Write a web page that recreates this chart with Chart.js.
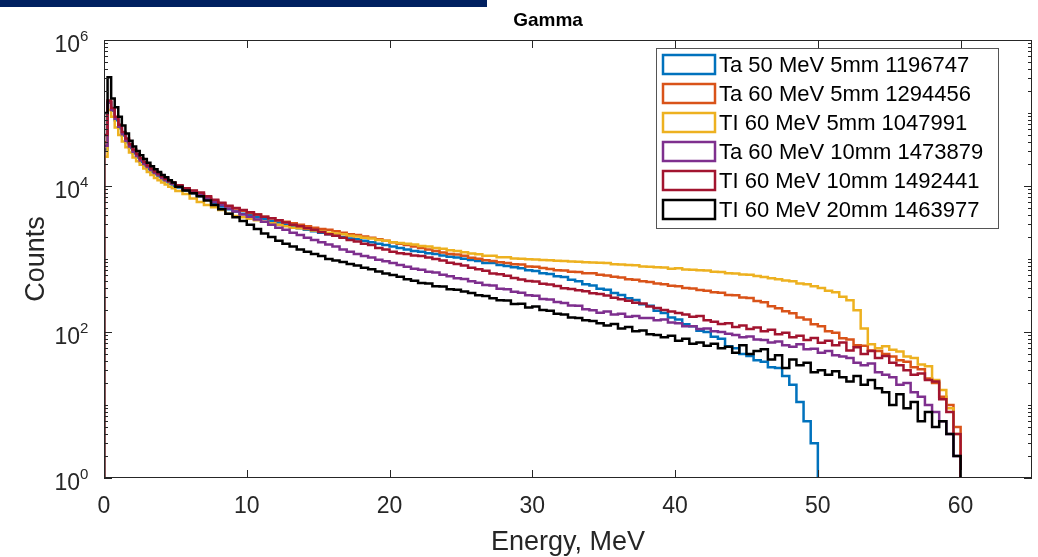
<!DOCTYPE html>
<html lang="en">
<head>
<meta charset="UTF-8">
<title>Gamma</title>
<script src="https://cdn.jsdelivr.net/npm/chart.js"></script>
<style>
    body { margin: 0; background: #ffffff; }
    #wrap { position: relative; width: 1038px; height: 557px; }
    #topBar { position: absolute; left: 0; top: 0; width: 487px; height: 7px; background: #002060; }
    canvas { position: absolute; left: 0; top: 0; }
</style>
</head>
<body>
<div id="wrap">
    <canvas id="gammaChart" width="1038" height="557"></canvas>
    <div id="topBar"></div>
</div>
<script>
    // histogram bins: first 20 bins are 0.25 MeV wide (0-5 MeV), then 0.5 MeV wide (one row = 5 MeV)
    const fineBinWidth = 0.25;
    const fineBinCount = 20;
    const binWidth = 0.5;

    const ta50_5mm = [
        31600, 138000, 107000, 79400, 61700, 49000, 39800, 33100, 28200, 24500,
        21400, 19100, 17000, 15500, 14500, 13500, 12300, 11500, 10700, 10000,
        9550, 8710, 7940, 7240, 6460, 5750, 5250, 4790, 4470, 4170,
        3980, 3720, 3550, 3310, 3160, 2950, 2820, 2630, 2510, 2400,
        2290, 2190, 2090, 2000, 1910, 1860, 1780, 1700, 1620, 1550,
        1480, 1410, 1350, 1290, 1260, 1200, 1170, 1120, 1070, 1050,
        1010, 968, 940, 884, 878, 826, 800, 770, 748, 702,
        684, 640, 622, 582, 568, 520, 496, 452, 432, 392,
        378, 342, 320, 290, 274, 240, 228, 196, 182, 158,
        148, 128, 120, 104, 100, 86, 81, 64, 60, 50,
        47, 41, 39, 33, 32, 25, 19, 11, 6, 3
    ];
    const ta60_5mm = [
        39800, 141000, 112000, 85100, 66100, 52500, 42700, 35500, 30200, 26300,
        22900, 20400, 18200, 16600, 15100, 14100, 12900, 12000, 11500, 10700,
        10000, 9120, 8510, 7760, 7080, 6310, 5750, 5250, 4900, 4570,
        4270, 4070, 3800, 3630, 3390, 3240, 3090, 2950, 2820, 2690,
        2570, 2510, 2400, 2290, 2190, 2140, 2040, 1950, 1860, 1780,
        1700, 1620, 1550, 1480, 1410, 1350, 1290, 1230, 1170, 1150,
        1110, 1040, 1010, 965, 940, 905, 880, 845, 838, 790,
        785, 750, 730, 700, 698, 668, 665, 640, 636, 610,
        595, 570, 556, 530, 518, 496, 483, 462, 452, 430,
        422, 400, 394, 375, 368, 350, 344, 320, 318, 298,
        292, 265, 255, 225, 212, 192, 181, 158, 148, 128,
        120, 102, 98, 82, 79, 66, 65, 56, 55, 50,
        46, 41, 39, 33, 31, 23, 20, 13, 10, 5
    ];
    const tl60_5mm = [
        25100, 110000, 89100, 63100, 50100, 40700, 33900, 28800, 24500, 21900,
        19500, 17400, 15500, 14100, 12900, 12000, 11200, 10500, 9770, 9330,
        8510, 7760, 6760, 6030, 5500, 5130, 4680, 4170, 3890, 3720,
        3550, 3390, 3240, 3090, 2950, 2820, 2690, 2630, 2570, 2450,
        2400, 2290, 2240, 2190, 2090, 2040, 1950, 1910, 1820, 1780,
        1700, 1660, 1620, 1580, 1510, 1480, 1410, 1380, 1320, 1290,
        1240, 1190, 1160, 1110, 1105, 1060, 1055, 1015, 1005, 990,
        985, 970, 962, 948, 940, 925, 918, 905, 898, 885,
        878, 845, 840, 825, 818, 790, 782, 770, 764, 736,
        748, 718, 712, 702, 696, 670, 665, 640, 635, 612,
        608, 584, 566, 545, 530, 508, 494, 462, 450, 422,
        402, 368, 350, 305, 272, 198, 112, 68, 60, 64,
        57, 54, 46, 44, 36, 34, 22, 16, 9, 4
    ];
    const ta60_10mm = [
        35500, 141000, 110000, 83200, 64600, 51300, 41700, 34700, 29500, 25700,
        22400, 20000, 18200, 16600, 15100, 14100, 12900, 12000, 11500, 10700,
        10000, 9120, 8320, 7590, 6760, 6030, 5500, 4900, 4470, 4070,
        3800, 3470, 3240, 2950, 2690, 2510, 2290, 2140, 1950, 1820,
        1700, 1580, 1480, 1350, 1260, 1170, 1100, 1050, 977, 933,
        880, 825, 785, 735, 715, 668, 652, 610, 582, 545,
        532, 495, 474, 441, 432, 392, 386, 357, 344, 318,
        314, 284, 279, 258, 249, 230, 228, 205, 198, 184,
        191, 174, 178, 162, 166, 155, 155, 145, 148, 135,
        132, 120, 120, 110, 112, 102, 100, 95, 91, 85,
        87, 79, 78, 72, 74, 66, 63, 68, 58, 59,
        52, 55, 48, 46, 44, 38, 35, 37, 28, 26,
        24, 19, 20, 15, 13, 10, 8, 6, 4, 2
    ];
    const tl60_10mm = [
        50100, 148000, 117000, 89100, 69200, 55000, 44700, 37200, 31600, 27500,
        24000, 21400, 19100, 17400, 15800, 14800, 13500, 12600, 11700, 11200,
        10200, 9330, 8710, 8130, 7240, 6460, 5890, 5370, 5010, 4680,
        4370, 4070, 3800, 3630, 3390, 3160, 2950, 2820, 2630, 2510,
        2340, 2190, 2090, 1950, 1820, 1740, 1620, 1550, 1410, 1350,
        1260, 1200, 1170, 1120, 1100, 1050, 1000, 955, 891, 851,
        813, 759, 724, 692, 631, 617, 589, 550, 525, 501,
        490, 457, 447, 427, 398, 389, 372, 363, 339, 331,
        316, 295, 282, 269, 251, 245, 224, 214, 200, 191,
        182, 174, 162, 166, 145, 138, 129, 132, 117, 123,
        110, 115, 102, 107, 93, 98, 85, 89, 78, 83,
        71, 76, 66, 72, 56, 62, 50, 55, 44, 47,
        38, 35, 30, 26, 27, 22, 21, 12, 8, 4
    ];
    const tl60_20mm = [
        100000, 309000, 158000, 120000, 89100, 67600, 52500, 41700, 34700, 30200,
        26300, 23400, 20900, 18600, 17000, 15500, 14100, 13200, 12000, 11200,
        9770, 8710, 7940, 7240, 6310, 5500, 4790, 4170, 3720, 3310,
        2950, 2570, 2240, 2000, 1780, 1620, 1480, 1350, 1260, 1170,
        1100, 1000, 955, 912, 851, 813, 759, 724, 676, 631,
        603, 570, 530, 505, 470, 462, 425, 420, 385, 378,
        360, 342, 318, 312, 290, 272, 271, 242, 243, 216,
        224, 200, 195, 178, 174, 158, 155, 145, 141, 132,
        123, 129, 112, 117, 102, 105, 93, 91, 85, 89,
        76, 81, 69, 72, 65, 69, 60, 63, 52, 66,
        50, 55, 58, 42, 48, 32, 42, 35, 38, 28,
        30, 26, 29, 24, 21, 25, 19, 22, 17, 15,
        10, 14, 9, 11, 6, 8, 5, 6, 4, 2
    ];

    const seriesLabels = [
        'Ta 50 MeV 5mm 1196747',
        'Ta 60 MeV 5mm 1294456',
        'TI 60 MeV 5mm 1047991',
        'Ta 60 MeV 10mm 1473879',
        'TI 60 MeV 10mm 1492441',
        'TI 60 MeV 20mm 1463977'
    ];
    const seriesCounts = [ta50_5mm, ta60_5mm, tl60_5mm, ta60_10mm, tl60_10mm, tl60_20mm];
    const seriesColors = ['#0072BD', '#D95319', '#EDB120', '#7E2F8E', '#A2142F', '#000000'];

    const xTicks = [0, 10, 20, 30, 40, 50, 60];
    const yLabelExps = [0, 2, 4, 6];

    const axisColor = '#262626';
    const fontFamily = '"Liberation Sans", Arial, sans-serif';

    function binEdge(i) {
        if (i <= fineBinCount) return i * fineBinWidth;
        return fineBinCount * fineBinWidth + (i - fineBinCount) * binWidth;
    }

    // stairs outline: up from the floor at 0, across each bin, back down at the last edge
    function stairs(counts) {
        const pts = [{ x: 0, y: 0.5 }];
        counts.forEach((c, i) => pts.push({ x: binEdge(i), y: c }));
        pts.push({ x: binEdge(counts.length), y: 0.5 });
        return pts;
    }

    const matlabAxes = {
        id: 'matlabAxes',
        afterDraw(chart) {
            const { ctx, chartArea: a, scales: { x, y } } = chart;
            ctx.save();

            // axes box and ticks
            ctx.strokeStyle = axisColor;
            ctx.lineWidth = 1;
            ctx.strokeRect(a.left + 0.5, a.top + 0.5, a.right - a.left - 1, a.bottom - a.top - 1);
            ctx.beginPath();
            xTicks.forEach(v => {
                const px = Math.round(x.getPixelForValue(v)) + 0.5;
                ctx.moveTo(px, a.bottom); ctx.lineTo(px, a.bottom - 8);
                ctx.moveTo(px, a.top); ctx.lineTo(px, a.top + 8);
            });
            for (let k = 0; k <= 6; k++) {
                for (let m = 1; m < 10; m++) {
                    if (k === 6 && m > 1) break;
                    const py = Math.round(y.getPixelForValue(m * Math.pow(10, k))) + 0.5;
                    const len = (m === 1 && k % 2 === 0) ? 8 : 4;
                    ctx.moveTo(a.left, py); ctx.lineTo(a.left + len, py);
                    ctx.moveTo(a.right, py); ctx.lineTo(a.right - len, py);
                }
            }
            ctx.stroke();

            // tick labels
            ctx.fillStyle = axisColor;
            ctx.font = '23px ' + fontFamily;
            ctx.textAlign = 'center';
            ctx.textBaseline = 'alphabetic';
            xTicks.forEach(v => ctx.fillText(String(v), x.getPixelForValue(v), a.bottom + 35));

            yLabelExps.forEach(e => {
                const py = y.getPixelForValue(Math.pow(10, e));
                ctx.font = '23px ' + fontFamily;
                ctx.textAlign = 'right';
                ctx.fillText('10', a.left - 24, py + 12);
                ctx.font = '15px ' + fontFamily;
                ctx.textAlign = 'left';
                ctx.fillText(String(e), a.left - 24, py + 1);
            });

            // axis titles
            ctx.font = '27px ' + fontFamily;
            ctx.textAlign = 'center';
            ctx.fillText('Energy, MeV', (a.left + a.right) / 2, 550);
            ctx.save();
            ctx.translate(44, (a.top + a.bottom) / 2);
            ctx.rotate(-Math.PI / 2);
            ctx.fillText('Counts', 0, 0);
            ctx.restore();

            ctx.font = 'bold 19px ' + fontFamily;
            ctx.fillStyle = '#000000';
            ctx.fillText('Gamma', 548, 26);

            // legend box inside the axes, top right
            const lx = 656, ly = 48, lw = 342, lh = 180;
            ctx.fillStyle = '#ffffff';
            ctx.fillRect(lx, ly, lw, lh);
            ctx.strokeStyle = '#555555';
            ctx.lineWidth = 1;
            ctx.strokeRect(lx + 0.5, ly + 0.5, lw, lh);
            ctx.font = '22px ' + fontFamily;
            ctx.textAlign = 'left';
            ctx.textBaseline = 'middle';
            seriesLabels.forEach((label, i) => {
                const top = ly + 7 + i * 29;
                ctx.strokeStyle = seriesColors[i];
                ctx.lineWidth = 2.5;
                ctx.strokeRect(lx + 7, top, 52, 19);
                ctx.fillStyle = '#000000';
                ctx.fillText(label, lx + 63, top + 11);
            });

            ctx.restore();
        }
    };

    const ctx = document.getElementById('gammaChart').getContext('2d');
    const gammaChart = new Chart(ctx, {
        type: 'line',
        data: {
            datasets: seriesLabels.map((label, i) => ({
                label: label,
                data: stairs(seriesCounts[i]),
                borderColor: seriesColors[i],
                borderWidth: 2.5,
                stepped: 'before',
                fill: false,
                pointRadius: 0,
                order: seriesLabels.length - i   // last series drawn on top
            }))
        },
        options: {
            responsive: false,
            animation: false,
            layout: { padding: { left: 104, right: 6, top: 40, bottom: 79 } },
            plugins: { legend: { display: false }, tooltip: { enabled: false } },
            scales: {
                x: { type: 'linear', min: 0, max: 65, display: false },
                y: { type: 'logarithmic', min: 1, max: 1e6, display: false }
            }
        },
        plugins: [matlabAxes]
    });
</script>
</body>
</html>
